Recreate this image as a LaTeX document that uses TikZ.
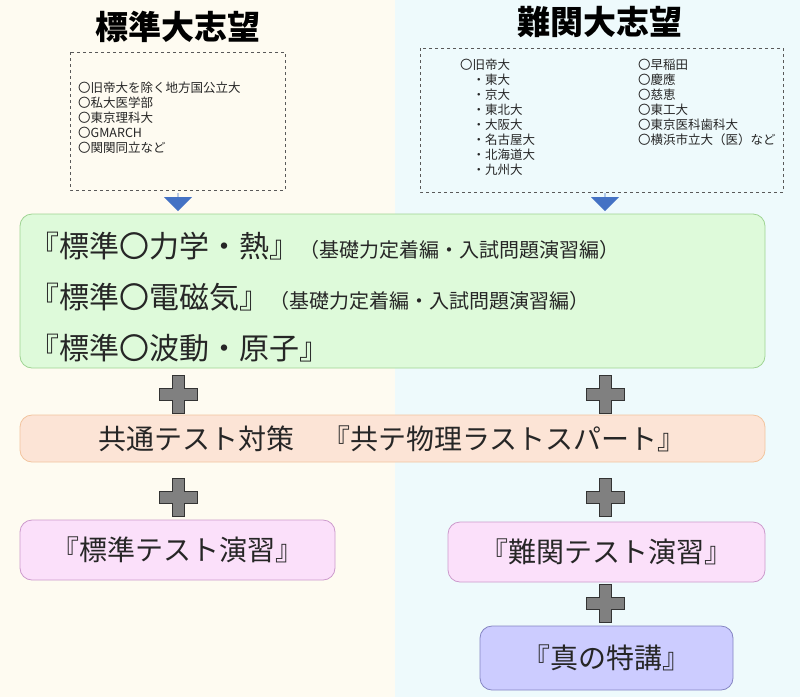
\documentclass[tikz,border=0pt]{standalone}
\usepackage{fontspec}
\setmainfont{Noto Sans CJK JP}
\usetikzlibrary{shapes.arrows}
\definecolor{bgL}{HTML}{FEFBF1}
\definecolor{bgR}{HTML}{EEFAFC}
\definecolor{grF}{HTML}{DEFADA}
\definecolor{grD}{HTML}{9FD493}
\definecolor{orF}{HTML}{FCE4D6}
\definecolor{orD}{HTML}{F2C49E}
\definecolor{piF}{HTML}{FBE0FA}
\definecolor{piD}{HTML}{CC9ACC}
\definecolor{puF}{HTML}{CCCCFF}
\definecolor{puD}{HTML}{8585C2}
\definecolor{arB}{HTML}{4472C4}
\definecolor{txt}{HTML}{262626}
\tikzset{
  box/.style={rounded corners=12pt, line width=0.8pt},
  dbox/.style={draw=gray!70!black, dashed, line width=0.6pt},
  small/.style={font=\fontsize{12.5}{15}\selectfont, align=left, anchor=north west, inner sep=0pt, text=txt},
  big/.style={font=\fontsize{28}{28}\selectfont, text=txt},
  plus/.style={fill=gray, draw=gray!40!black, line width=0.7pt},
  barrow/.style={single arrow, draw=none, fill=arB, shape border rotate=270, minimum width=28pt, single arrow head extend=7pt, minimum height=18pt, inner sep=0pt}
}
\newcommand{\plussign}[2]{\draw[plus] (#1-6,#2-19) -- (#1+6,#2-19) -- (#1+6,#2-6) -- (#1+19,#2-6) -- (#1+19,#2+6) -- (#1+6,#2+6) -- (#1+6,#2+19) -- (#1-6,#2+19) -- (#1-6,#2+6) -- (#1-19,#2+6) -- (#1-19,#2-6) -- (#1-6,#2-6) -- cycle;}
\begin{document}
\begin{tikzpicture}[x=1pt,y=-1pt]
\useasboundingbox (0,0) rectangle (800,697);
\fill[bgL] (0,0) rectangle (395,697);
\fill[bgR] (395,0) rectangle (800,697);
\node[font=\fontsize{33}{33}\selectfont\bfseries, text=black] (t1) at (178,27) {標準大志望};
\node[font=\fontsize{33}{33}\selectfont\bfseries, text=black] (t2) at (600,22) {難関大志望};
\draw[dbox] (70,52) rectangle (285,190);
\node[small] (l1) at (78,82) {〇旧帝大を除く地方国公立大\\〇私大医学部\\〇東京理科大\\〇GMARCH\\〇関関同立など};
\draw[dbox] (420,48) rectangle (783,192);
\node[small] (r1) at (460,59) {〇旧帝大\\\quad・東大\\\quad・京大\\\quad・東北大\\\quad・大阪大\\\quad・名古屋大\\\quad・北海道大\\\quad・九州大};
\node[small] (r2) at (638,59) {〇早稲田\\〇慶應\\〇慈恵\\〇東工大\\〇東京医科歯科大\\〇横浜市立大（医）など};
\node[barrow] (a1) at (178,202) {};
\node[barrow] (a2) at (605,202) {};
\draw[box, fill=grF, draw=grD] (20,214) rectangle (765,368);
\node[big, anchor=west, font=\fontsize{30}{30}\selectfont] (g1) at (26,246) {『標準〇力学・熱』\fontsize{20}{20}\selectfont（基礎力定着編・入試問題演習編）};
\node[big, anchor=west, font=\fontsize{30}{30}\selectfont] (g2) at (26,297) {『標準〇電磁気』\fontsize{20}{20}\selectfont（基礎力定着編・入試問題演習編）};
\node[big, anchor=west, font=\fontsize{30}{30}\selectfont] (g3) at (26,348) {『標準〇波動・原子』};
\plussign{178}{394}
\plussign{605}{394}
\draw[box, fill=orF, draw=orD] (20,415) rectangle (765,462);
\node[big] (c1) at (392,439) {共通テスト対策　『共テ物理ラストスパート』};
\plussign{178}{497}
\plussign{605}{497}
\draw[box, fill=piF, draw=piD] (20,520) rectangle (335,580);
\node[big] (p1) at (177,550) {『標準テスト演習』};
\draw[box, fill=piF, draw=piD] (448,522) rectangle (765,582);
\node[big] (p2) at (606,552) {『難関テスト演習』};
\plussign{605}{603}
\draw[box, fill=puF, draw=puD] (480,626) rectangle (733,690);
\node[big] (s1) at (606,658) {『真の特講』};
\end{tikzpicture}
\end{document}
